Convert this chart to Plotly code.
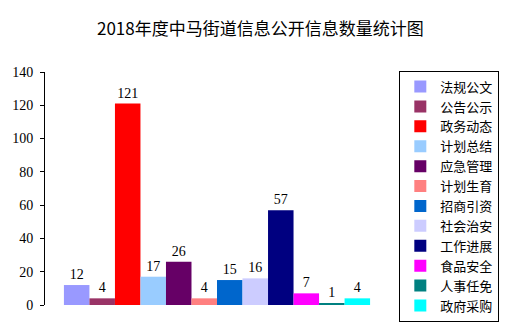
import plotly.graph_objects as go

# 2018 information disclosure counts by category
categories = ["法规公文", "公告公示", "政务动态", "计划总结", "应急管理", "计划生育",
              "招商引资", "社会治安", "工作进展", "食品安全", "人事任免", "政府采购"]
counts = [12, 4, 121, 17, 26, 4, 15, 16, 57, 7, 1, 4]
colors = ["#9999FF", "#993366", "#FF0000", "#99CCFF", "#660066", "#FF8080",
          "#0066CC", "#CCCCFF", "#000080", "#FF00FF", "#008080", "#00FFFF"]
y_ticks = [0, 20, 40, 60, 80, 100, 120, 140]

num_font = "Liberation Serif, DejaVu Serif, serif"
cjk_font = "Noto Sans CJK SC, sans-serif"

fig = go.Figure()
for name, val, col in zip(categories, counts, colors):
    fig.add_trace(go.Bar(
        x=[""], y=[val], name=name,
        marker=dict(color=col, line=dict(width=0)),
        text=[str(val)], textposition="outside",
        textfont=dict(family=num_font, size=14, color="black"),
        cliponaxis=False,
    ))

fig.update_layout(
    width=526, height=326,
    margin=dict(l=45, r=137, t=72, b=21),
    paper_bgcolor="white", plot_bgcolor="white",
    barmode="group", bargap=0.11, bargroupgap=0,
    title=dict(text="2018年度中马街道信息公开信息数量统计图",
               x=0.495, xanchor="center", y=0.91, yanchor="middle",
               font=dict(family=cjk_font, size=17, color="black")),
    showlegend=True,
    legend=dict(x=1.03, xanchor="left", y=1.006, yanchor="top",
                bordercolor="black", borderwidth=1, bgcolor="white",
                font=dict(family=cjk_font, size=13, color="black"),
                itemwidth=30, tracegroupgap=0, maxheight=320),
    xaxis=dict(showline=False, showticklabels=False, ticks="", showgrid=False,
               zeroline=False),
    yaxis=dict(range=[0, 140], tickvals=y_ticks, showline=True, linecolor="black",
               linewidth=1, ticks="outside", ticklen=4, tickcolor="black",
               showgrid=False, zeroline=False, ticklabelstandoff=4,
               tickfont=dict(family=num_font, size=14, color="black")),
)

fig.write_html("out.html")
